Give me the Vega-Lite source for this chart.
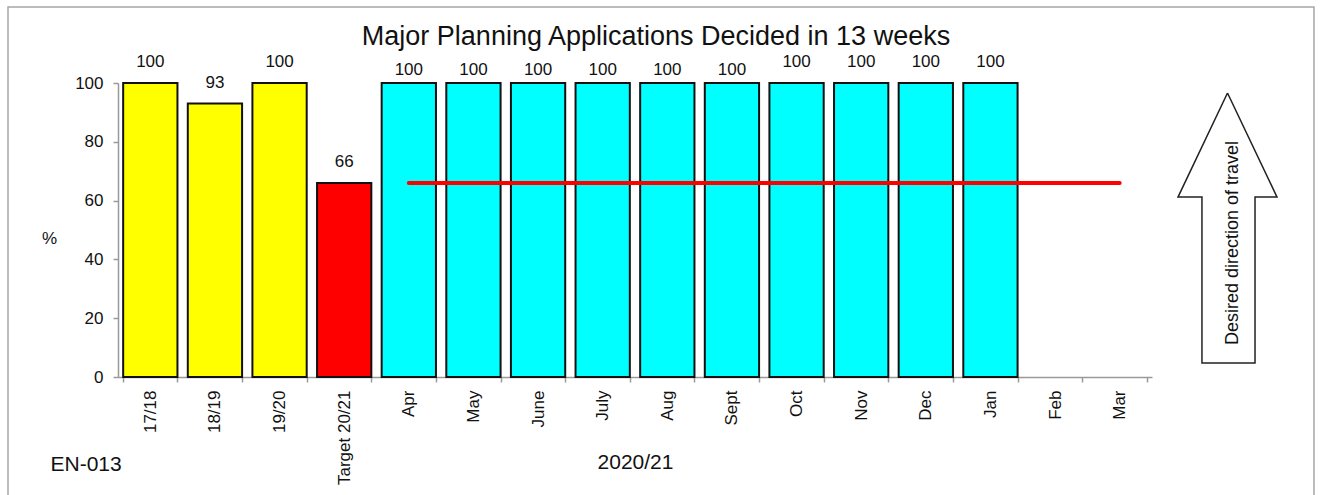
{
  "$schema": "https://vega.github.io/schema/vega-lite/v6.json",
  "width": 1306,
  "height": 490,
  "autosize": {"type": "none"},
  "padding": {"left": 8, "top": 7, "right": 6, "bottom": 0},
  "background": "white",
  "title": {
    "text": "Major Planning Applications Decided in 13 weeks",
    "font": "Liberation Sans",
    "fontSize": 27,
    "fontWeight": "normal",
    "color": "#111111",
    "anchor": "middle",
    "baseline": "alphabetic",
    "offset": -39,
    "dy": 26,
    "dx": -5
  },
  "config": {
    "view": {"stroke": "#a6a6a6", "strokeWidth": 1.5},
    "axis": {
      "labelFont": "Liberation Sans",
      "titleFont": "Liberation Sans",
      "labelColor": "#111111",
      "titleColor": "#111111",
      "domainColor": "#9a9a9a",
      "tickColor": "#9a9a9a",
      "domainWidth": 1.5,
      "tickWidth": 1.5,
      "grid": false
    },
    "text": {"font": "Liberation Sans"}
  },
  "datasets": {
    "main": [
      {"period": "17/18", "value": 100, "series": "Annual", "target": null},
      {"period": "18/19", "value": 93, "series": "Annual", "target": null},
      {"period": "19/20", "value": 100, "series": "Annual", "target": null},
      {"period": "Target 20/21", "value": 66, "series": "Target", "target": null},
      {"period": "Apr", "value": 100, "series": "Monthly", "target": 66},
      {"period": "May", "value": 100, "series": "Monthly", "target": 66},
      {"period": "June", "value": 100, "series": "Monthly", "target": 66},
      {"period": "July", "value": 100, "series": "Monthly", "target": 66},
      {"period": "Aug", "value": 100, "series": "Monthly", "target": 66},
      {"period": "Sept", "value": 100, "series": "Monthly", "target": 66},
      {"period": "Oct", "value": 100, "series": "Monthly", "target": 66},
      {"period": "Nov", "value": 100, "series": "Monthly", "target": 66},
      {"period": "Dec", "value": 100, "series": "Monthly", "target": 66},
      {"period": "Jan", "value": 100, "series": "Monthly", "target": 66},
      {"period": "Feb", "value": null, "series": "Monthly", "target": 66},
      {"period": "Mar", "value": null, "series": "Monthly", "target": 66}
    ],
    "arrow": [
      {"ax": 50, "ay": 96.6, "ord": 1},
      {"ax": 100, "ay": 61.2, "ord": 2},
      {"ax": 77.8, "ay": 61.2, "ord": 3},
      {"ax": 77.8, "ay": 4.8, "ord": 4},
      {"ax": 24.2, "ay": 4.8, "ord": 5},
      {"ax": 24.2, "ay": 61.2, "ord": 6},
      {"ax": 0, "ay": 61.2, "ord": 7},
      {"ax": 50, "ay": 96.6, "ord": 8}
    ],
    "arrowLabel": [
      {"ax": 55.6, "ay": 45.6, "label": "Desired direction of travel"}
    ]
  },
  "layer": [
    {
      "data": {"name": "main"},
      "layer": [
        {
          "transform": [{"filter": "isValid(datum.value)"}],
          "mark": {"type": "bar", "stroke": "#111111", "strokeWidth": 2},
          "encoding": {
            "x": {
              "field": "period",
              "type": "nominal",
              "sort": null,
              "title": "2020/21",
              "scale": {
                "domain": ["17/18", "18/19", "19/20", "Target 20/21", "Apr", "May", "June", "July", "Aug", "Sept", "Oct", "Nov", "Dec", "Jan", "Feb", "Mar"],
                "range": [110, 1144],
                "paddingInner": 0.16,
                "paddingOuter": 0.08
              },
              "axis": {
                "orient": "bottom",
                "offset": -120,
                "tickBand": "extent",
                "tickSize": 5,
                "labelAngle": -90,
                "labelPadding": 8,
                "labelFontSize": 17,
                "titleFontSize": 21,
                "titleFontWeight": "normal",
                "titleY": 91,
                "titleBaseline": "alphabetic"
              }
            },
            "y": {
              "field": "value",
              "type": "quantitative",
              "title": "%",
              "scale": {"domain": [0, 100], "range": [370, 76], "nice": false, "zero": true},
              "axis": {
                "offset": -110,
                "values": [0, 20, 40, 60, 80, 100],
                "tickSize": 5,
                "labelPadding": 10,
                "labelFontSize": 17,
                "titleAngle": 0,
                "titleX": -69,
                "titleY": 231,
                "titleAlign": "center",
                "titleBaseline": "middle",
                "titleFontSize": 17,
                "titleFontWeight": "normal"
              }
            },
            "color": {
              "field": "series",
              "type": "nominal",
              "scale": {"domain": ["Annual", "Target", "Monthly"], "range": ["#ffff00", "#ff0000", "#00ffff"]},
              "legend": null
            }
          }
        },
        {
          "transform": [
            {"filter": "isValid(datum.value)"},
            {"filter": {"field": "period", "oneOf": ["Apr", "May", "June", "July", "Aug", "Sept"]}}
          ],
          "mark": {"type": "text", "fontSize": 17, "baseline": "alphabetic", "align": "center", "dy": -8, "color": "#111111"},
          "encoding": {
            "x": {"field": "period", "type": "nominal", "sort": null, "title": "2020/21"},
            "y": {"field": "value", "type": "quantitative", "title": "%"},
            "text": {"field": "value", "type": "quantitative"}
          }
        },
        {
          "transform": [
            {"filter": "isValid(datum.value)"},
            {"filter": {"not": {"field": "period", "oneOf": ["Apr", "May", "June", "July", "Aug", "Sept"]}}}
          ],
          "mark": {"type": "text", "fontSize": 17, "baseline": "alphabetic", "align": "center", "dy": -16, "color": "#111111"},
          "encoding": {
            "x": {"field": "period", "type": "nominal", "sort": null, "title": "2020/21"},
            "y": {"field": "value", "type": "quantitative", "title": "%"},
            "text": {"field": "value", "type": "quantitative"}
          }
        },
        {
          "transform": [{"filter": "isValid(datum.target)"}],
          "mark": {"type": "line", "color": "#ff0000", "strokeWidth": 4, "strokeCap": "round"},
          "encoding": {
            "x": {"field": "period", "type": "nominal", "sort": null, "title": "2020/21"},
            "y": {"field": "target", "type": "quantitative", "title": "%"}
          }
        }
      ]
    },
    {
      "layer": [
        {
          "data": {"name": "arrow"},
          "mark": {"type": "line", "stroke": "#222222", "strokeWidth": 1.5, "strokeJoin": "miter"},
          "encoding": {
            "x": {
              "field": "ax",
              "type": "quantitative",
              "title": "EN-013",
              "scale": {"domain": [0, 100], "range": [1170, 1269], "nice": false, "zero": false},
              "axis": {
                "orient": "top",
                "domain": false,
                "ticks": false,
                "labels": false,
                "titleX": 42,
                "titleY": 463,
                "titleAlign": "left",
                "titleBaseline": "alphabetic",
                "titleFontSize": 21,
                "titleFontWeight": "normal"
              }
            },
            "y": {
              "field": "ay",
              "type": "quantitative",
              "title": "%",
              "scale": {"domain": [0, 100], "range": [370, 76], "nice": false, "zero": true}
            },
            "order": {"field": "ord", "type": "quantitative"}
          }
        },
        {
          "data": {"name": "arrowLabel"},
          "mark": {"type": "text", "angle": 270, "fontSize": 18, "align": "center", "baseline": "middle", "color": "#111111"},
          "encoding": {
            "x": {"field": "ax", "type": "quantitative", "title": "EN-013"},
            "y": {"field": "ay", "type": "quantitative", "title": "%"},
            "text": {"field": "label", "type": "nominal"}
          }
        }
      ]
    }
  ],
  "resolve": {"scale": {"x": "independent"}, "axis": {"x": "independent"}}
}
